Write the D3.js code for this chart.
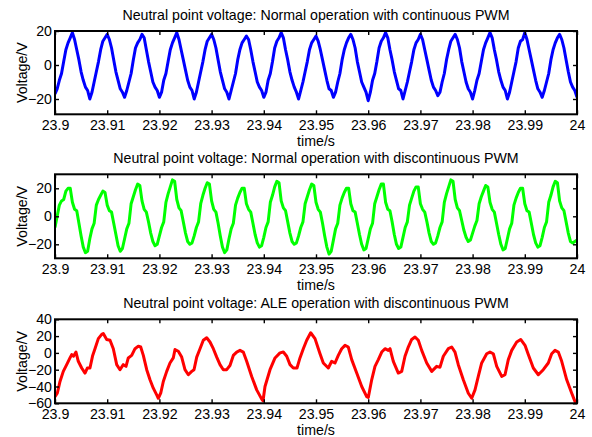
<!DOCTYPE html>
<html>
<head>
<meta charset="utf-8">
<script src="https://cdn.jsdelivr.net/npm/d3@7/dist/d3.min.js"></script>
<style>
    body { margin: 0; background: #fff; }
    #main { width: 592px; height: 437px; }
    svg text { font-family: "Liberation Sans", Arial, sans-serif; font-size: 14.2px; fill: #000; }
</style>
</head>
<body>
<div id="main"></div>
<script>

// time axis
const tStart = 23.9;
const tEnd = 24;
const xTicks = [23.9, 23.91, 23.92, 23.93, 23.94, 23.95, 23.96, 23.97, 23.98, 23.99, 24];
const xTickLabels = ["23.9", "23.91", "23.92", "23.93", "23.94", "23.95", "23.96", "23.97", "23.98", "23.99", "24"];

const titles = [
    "Neutral point voltage: Normal operation with continuous PWM",
    "Neutral point voltage: Normal operation with discontinuous PWM",
    "Neutral point voltage: ALE operation with discontinuous PWM"
];
const yDomains = [[-29, 20], [-30, 30], [-60, 40]];
const yTicks = [[-20, 0, 20], [-20, 0, 20], [-60, -40, -20, 0, 20, 40]];
const colors = ["#0000ff", "#00ff00", "#ff0000"];

// blue + green are read at 16 points per 150 Hz cycle (0.1 s / 240)
const sampleStep = 0.1 / 240;

const blueV = [
    -17,-14,-9,-5,2,9,13,16,19,15,9,3,-4,-9,-13,-15,
    -20,-16,-10,-4,2,9,14,16,18,15,10,3,-4,-9,-14,-16,
    -19,-15,-10,-5,3,10,13,15,18,16,9,2,-4,-10,-13,-15,
    -19,-16,-9,-5,2,9,13,16,19,15,9,3,-3,-9,-13,-15,
    -20,-16,-10,-4,2,9,14,16,18,15,10,3,-4,-9,-14,-16,
    -20,-15,-10,-5,3,9,13,15,17,15,9,2,-4,-10,-13,-15,
    -19,-16,-9,-5,2,10,14,16,19,16,9,3,-4,-9,-13,-16,
    -20,-15,-10,-4,2,9,13,15,17,14,9,3,-3,-9,-14,-15,
    -19,-16,-10,-5,3,9,13,16,18,15,10,2,-4,-10,-13,-16,
    -21,-16,-9,-5,2,10,14,16,19,16,9,3,-4,-9,-14,-15,
    -20,-15,-10,-4,2,9,13,15,18,15,9,3,-3,-9,-13,-15,
    -18,-16,-10,-5,3,9,14,16,18,15,10,2,-4,-10,-14,-16,
    -20,-15,-9,-5,2,9,13,16,19,16,9,3,-4,-9,-13,-15,
    -20,-16,-10,-4,2,10,14,15,19,15,9,3,-3,-9,-14,-16,
    -19,-15,-10,-5,3,9,13,16,18,15,10,3,-4,-10,-13,-15,
    -19
];

const greenV = [
    -8,0,8,11,12,18,20,20,10,5,4,-5,-14,-22,-26,-25,
    -16,-9,-5,8,12,15,18,17,8,4,3,-5,-13,-21,-25,-23,
    -16,-9,-5,9,14,19,23,22,11,5,3,-4,-12,-18,-21,-20,
    -14,-8,-4,10,16,21,26,25,12,6,4,-4,-12,-18,-20,-19,
    -14,-8,-4,9,15,20,24,23,11,5,3,-5,-14,-22,-26,-24,
    -16,-9,-5,8,13,17,20,20,9,5,3,-5,-13,-19,-22,-21,
    -15,-8,-4,10,15,21,25,24,11,6,4,-4,-12,-18,-20,-19,
    -14,-8,-4,9,14,19,23,22,10,5,3,-5,-14,-22,-27,-25,
    -17,-9,-5,8,13,17,20,20,9,4,3,-5,-13,-20,-24,-23,
    -16,-9,-5,9,14,19,23,23,10,5,4,-4,-13,-20,-23,-22,
    -15,-8,-4,8,13,18,21,21,9,5,3,-4,-12,-18,-20,-19,
    -14,-8,-4,10,16,21,26,25,12,6,4,-3,-10,-15,-18,-17,
    -12,-7,-3,9,14,18,22,21,10,5,3,-5,-13,-20,-24,-23,
    -16,-9,-5,8,13,17,20,20,9,4,3,-5,-13,-19,-22,-21,
    -15,-8,-4,10,15,21,25,24,11,6,4,-4,-12,-18,-19,-18,
    -17
];

// red is read at its turning points
const redT = [
    23.90000, 23.90044, 23.90096, 23.90159, 23.90224, 23.90287, 23.90320, 23.90354, 23.90402, 23.90446,
    23.90511, 23.90575, 23.90619, 23.90670, 23.90722, 23.90766, 23.90830, 23.90895, 23.90925, 23.90990,
    23.91054, 23.91117, 23.91182, 23.91245, 23.91308, 23.91360, 23.91404, 23.91469, 23.91533, 23.91596,
    23.91642, 23.91692, 23.91757, 23.91820, 23.91883, 23.91948, 23.91979, 23.92025, 23.92075, 23.92140,
    23.92203, 23.92266, 23.92299, 23.92362, 23.92427, 23.92490, 23.92554, 23.92619, 23.92663, 23.92715,
    23.92778, 23.92841, 23.92906, 23.92969, 23.93033, 23.93098, 23.93161, 23.93224, 23.93289, 23.93352,
    23.93416, 23.93481, 23.93544, 23.93607, 23.93672, 23.93768, 23.93864, 23.93960, 23.93985, 23.94023,
    23.94119, 23.94215, 23.94310, 23.94374, 23.94439, 23.94502, 23.94565, 23.94636, 23.94693, 23.94757,
    23.94822, 23.94898, 23.94981, 23.95077, 23.95140, 23.95236, 23.95301, 23.95364, 23.95427, 23.95492,
    23.95556, 23.95619, 23.95684, 23.95780, 23.95876, 23.95971, 23.96002, 23.96067, 23.96130, 23.96194,
    23.96259, 23.96322, 23.96385, 23.96418, 23.96481, 23.96577, 23.96642, 23.96705, 23.96768, 23.96833,
    23.96897, 23.96960, 23.97025, 23.97121, 23.97217, 23.97312, 23.97376, 23.97439, 23.97535, 23.97600,
    23.97663, 23.97726, 23.97822, 23.97918, 23.97983, 23.98046, 23.98109, 23.98174, 23.98270, 23.98333,
    23.98397, 23.98462, 23.98558, 23.98621, 23.98684, 23.98749, 23.98845, 23.98921, 23.99004, 23.99067,
    23.99163, 23.99259, 23.99354, 23.99450, 23.99515, 23.99579, 23.99642, 23.99707, 23.99803, 23.99899,
    23.99962, 24.00000
];
const redV = [
    -52, -48, -34, -22, -14, -6, -2, -4, 1, -10,
    -18, -24, -18, -18, -3, 5, 17, 22, 23, 16,
    15, 5, -14, -20, -14, -16, -6, -3, 5, 8,
    7, -3, -20, -32, -42, -50, -54, -48, -34, -22,
    -12, -6, 4, 2, -5, -20, -26, -22, -20, -5,
    5, 15, 18, 13, 5, -5, -14, -20, -20, -15,
    -3, 1, 3, 1, -10, -28, -44, -55, -57, -40,
    -20, -6, 0, 1, -4, -14, -18, -18, -6, 5,
    15, 24, 17, -1, -12, -18, -10, -12, -3, 5,
    9, 7, -8, -24, -40, -52, -53, -32, -16, -8,
    1, 5, 3, 5, -10, -24, -22, -4, 7, 16,
    19, 15, 3, -12, -22, -16, -17, -4, 5, 7,
    1, -14, -32, -48, -54, -44, -28, -12, -1, 1,
    -1, -16, -28, -26, -8, 3, 13, 16, 9, -2,
    -18, -26, -20, -12, -1, 3, 1, -10, -32, -48,
    -58, -60
];

const series = [
    blueV.map((v, i) => [tStart + i * sampleStep, v]),
    greenV.map((v, i) => [tStart + i * sampleStep, v]),
    redT.map((t, i) => [t, redV[i]])
];

const W = 592, H = 437;
const left = 55, right = 577;
const panelBox = [[31, 114.3], [174.3, 258.3], [319.3, 403.3]];

function drawPanel(svg, k) {
    const top = panelBox[k][0], bottom = panelBox[k][1];
    const x = d3.scaleLinear().domain([tStart, tEnd]).range([left, right]);
    const y = d3.scaleLinear().domain(yDomains[k]).range([bottom, top]);

    svg.append("clipPath").attr("id", "clip" + k)
        .append("rect")
        .attr("x", left).attr("y", top)
        .attr("width", right - left).attr("height", bottom - top);

    const line = d3.line().x(d => x(d[0])).y(d => y(d[1]));
    svg.append("path")
        .datum(series[k])
        .attr("clip-path", "url(#clip" + k + ")")
        .attr("d", line)
        .attr("fill", "none")
        .attr("stroke", colors[k])
        .attr("stroke-width", 3)
        .attr("stroke-linejoin", "round");

    // ticks point inward on all four sides, like matlab
    svg.append("g").attr("transform", `translate(0,${bottom})`)
        .call(d3.axisBottom(x).tickValues(xTicks).tickFormat((d, i) => xTickLabels[i])
            .tickSizeInner(-4).tickSizeOuter(0).tickPadding(6));
    svg.append("g").attr("transform", `translate(0,${top})`)
        .call(d3.axisTop(x).tickValues(xTicks).tickFormat("").tickSizeInner(-4).tickSizeOuter(0));
    svg.append("g").attr("transform", `translate(${left},0)`)
        .call(d3.axisLeft(y).tickValues(yTicks[k]).tickFormat(d3.format("d"))
            .tickSizeInner(-4).tickSizeOuter(0).tickPadding(3));
    svg.append("g").attr("transform", `translate(${right},0)`)
        .call(d3.axisRight(y).tickValues(yTicks[k]).tickFormat("").tickSizeInner(-4).tickSizeOuter(0));
    svg.selectAll(".domain").remove();
    svg.selectAll(".tick line").attr("stroke", "#000").attr("stroke-width", 1.4);

    svg.append("rect")
        .attr("x", left).attr("y", top)
        .attr("width", right - left).attr("height", bottom - top)
        .attr("fill", "none")
        .attr("stroke", "#000")
        .attr("stroke-width", 2);

    svg.append("text")
        .attr("x", (left + right) / 2).attr("y", top - 11)
        .attr("text-anchor", "middle")
        .text(titles[k]);

    svg.append("text")
        .attr("x", (left + right) / 2).attr("y", bottom + 32)
        .attr("text-anchor", "middle")
        .text("time/s");

    svg.append("text")
        .attr("transform", `translate(27,${(top + bottom) / 2}) rotate(-90)`)
        .attr("text-anchor", "middle")
        .text("Voltage/V");
}

function createChart() {
    const svg = d3.select("#main").append("svg")
        .attr("width", W)
        .attr("height", H);
    svg.append("rect").attr("width", W).attr("height", H).attr("fill", "#fff");
    for (let k = 0; k < 3; k++) drawPanel(svg, k);
}

createChart();
</script>
</body>
</html>
